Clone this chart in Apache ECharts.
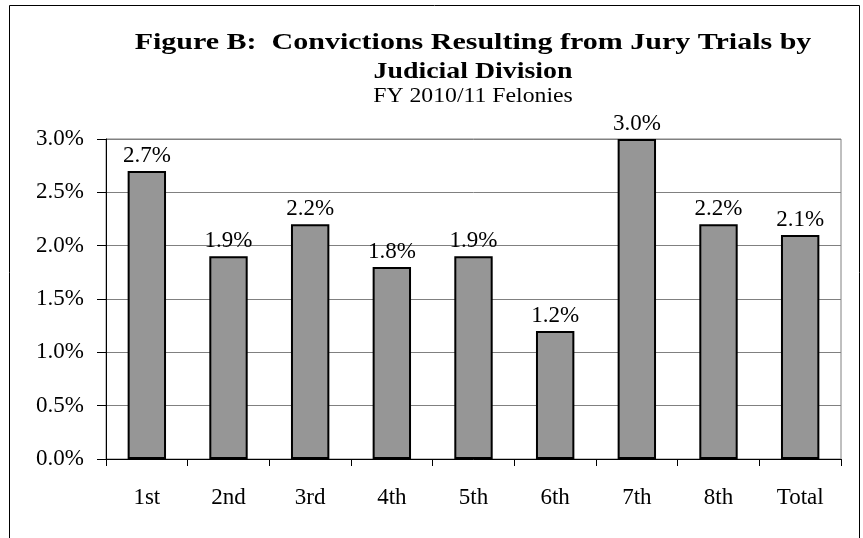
<!DOCTYPE html>
<html>
<head>
<meta charset="utf-8">
<script src="https://cdn.jsdelivr.net/npm/echarts@6/dist/echarts.min.js"></script>
<style>html,body{margin:0;padding:0;background:#fff}#c{width:863px;height:538px}</style>
</head>
<body>
<div id="c"></div>
<script>
const categories = ["1st","2nd","3rd","4th","5th","6th","7th","8th","Total"];
const values = [2.7, 1.9, 2.2, 1.8, 1.9, 1.2, 3.0, 2.2, 2.1];
const titleLines = ["Figure B:  Convictions Resulting from Jury Trials by", "Judicial Division"];
const subtitle = "FY 2010/11 Felonies";

const FONT = "'Liberation Serif', 'Times New Roman', serif";
const CX = 473;
const chart = echarts.init(document.getElementById('c'), null, {renderer: 'canvas'});
chart.setOption({
  animation: false,
  backgroundColor: '#fff',
  graphic: [
    {type: 'rect', shape: {x: 9.5, y: 5.5, width: 850, height: 600},
     style: {fill: 'none', stroke: '#000', lineWidth: 1}, silent: true, z: -1},
    {type: 'text', x: CX, y: 31, scaleX: 1.25, silent: true,
     style: {text: titleLines[0], x: 0, y: 0, textAlign: 'center', textVerticalAlign: 'top',
       font: "bold 24px " + FONT, fill: '#000'}},
    {type: 'text', x: CX, y: 60, scaleX: 1.16, silent: true,
     style: {text: titleLines[1], x: 0, y: 0, textAlign: 'center', textVerticalAlign: 'top',
       font: "bold 24px " + FONT, fill: '#000'}},
    {type: 'text', x: CX, y: 86, scaleX: 1.13, silent: true,
     style: {text: subtitle, x: 0, y: 0, textAlign: 'center', textVerticalAlign: 'top',
       font: "21px " + FONT, fill: '#000'}}
  ],
  grid: {left: 106, right: 22, top: 139, bottom: 79, show: true, borderColor: '#808080', borderWidth: 1},
  xAxis: {
    type: 'category', data: categories,
    axisLine: {lineStyle: {color: '#000', width: 1}},
    axisTick: {show: true, length: 7, lineStyle: {color: '#000'}},
    axisLabel: {fontFamily: FONT, fontSize: 23, color: '#000', margin: 27}
  },
  yAxis: {
    type: 'value', min: 0, max: 3, interval: 0.5,
    axisLine: {show: true, lineStyle: {color: '#000', width: 1}},
    axisTick: {show: true, length: 9, lineStyle: {color: '#000'}},
    axisLabel: {fontFamily: FONT, fontSize: 23, color: '#000', margin: 22,
      formatter: v => v.toFixed(1) + '%'},
    splitLine: {show: true, lineStyle: {color: '#808080', width: 1}}
  },
  series: [{
    type: 'bar', data: values, barWidth: '47%',
    itemStyle: {color: '#969696', borderColor: '#000', borderWidth: 2},
    label: {show: true, position: 'top', distance: 4, fontFamily: FONT, fontSize: 23, color: '#000',
      formatter: p => p.value.toFixed(1) + '%'}
  }]
});
</script>
</body>
</html>
